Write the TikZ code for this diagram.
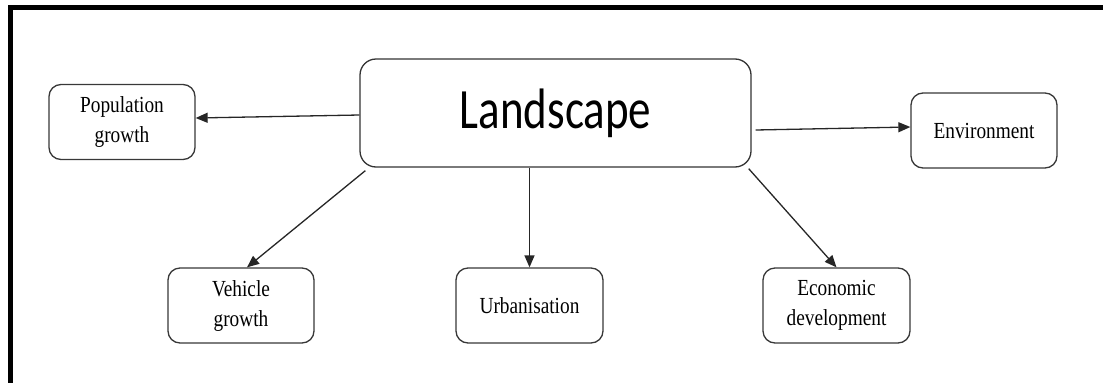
\documentclass[tikz,border=0pt]{standalone}
\usepackage{graphicx}
\usepackage{fontspec}
\usetikzlibrary{arrows.meta}
\newfontfamily\boxfont{Liberation Serif}
\newfontfamily\titlefont{Carlito}
% narrow the lettering a little, as in the drawing
\newcommand\nrw[1]{\scalebox{0.84}[1]{#1}}
\newcommand\nrwtitle[1]{\scalebox{0.79}[1]{#1}}

\begin{document}
\begin{tikzpicture}[x=1pt,y=-1pt,
  smallbox/.style={draw=black!78,line width=1.3pt,rounded corners=12pt,
    minimum width=146pt,minimum height=75pt,inner sep=0pt,align=center,
    font=\boxfont\fontsize{23}{30}\selectfont,text=black},
  bigbox/.style={draw=black!80,line width=1.3pt,rounded corners=16pt,
    minimum width=391pt,minimum height=108pt,inner sep=0pt,
    font=\titlefont\fontsize{57}{60}\selectfont,text=black},
  link/.style={draw=black!85,line width=1.3pt,-{Triangle[length=12pt,width=10pt]}}]

  % page size and frame (left and top rules only)
  \useasboundingbox (0,0) rectangle (1103,383);
  \fill[black] (8,5) rectangle (12.5,383);
  \fill[black] (8,5) rectangle (1103,9.5);

  % central node
  \node[bigbox] (land) at (555.5,113) {\nrwtitle{Landscape}};

  % outer nodes
  \node[smallbox] (pop) at (122,122)   {\nrw{Population}\\\nrw{growth}};
  \node[smallbox] (env) at (984,130.5) {\nrw{Environment}};
  \node[smallbox] (veh) at (241,305.5) {\nrw{Vehicle}\\\nrw{growth}};
  \node[smallbox,minimum width=147pt] (urb) at (529.5,305.5) {\nrw{Urbanisation}};
  \node[smallbox,minimum width=147pt] (eco) at (836.5,305.5) {\nrw{Economic}\\\nrw{development}};

  % connectors
  \draw[link] ([yshift=-2pt]land.west) -- ([yshift=4pt]pop.east);
  \draw[link] ([xshift=4pt,yshift=-17pt]land.east) -- ([yshift=3.5pt]env.west);
  \draw[link] ([xshift=6pt,yshift=-3pt]land.south west) -- ([xshift=6pt]veh.north);
  \draw[link] (urb.north |- land.south) -- (urb.north);
  \draw[link] ([xshift=-3pt,yshift=-1pt]land.south east) -- (eco.north);
\end{tikzpicture}
\end{document}
